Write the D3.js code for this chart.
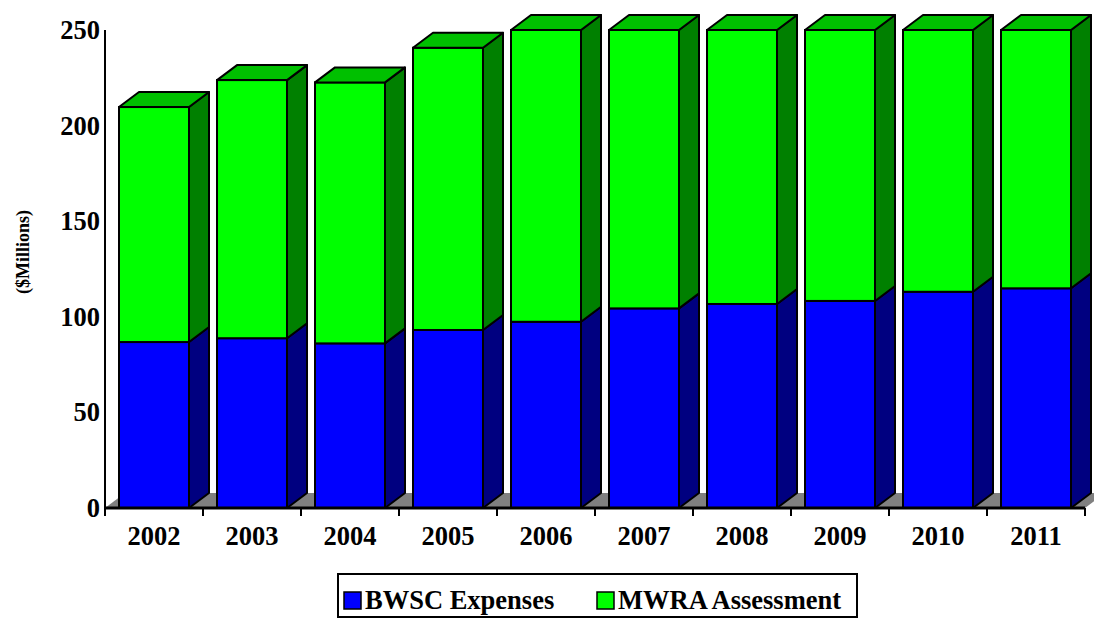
<!DOCTYPE html>
<html>
<head>
<meta charset="utf-8">
<script src="https://cdn.jsdelivr.net/npm/d3@7"></script>
<style>
  html, body { margin: 0; padding: 0; background: #fff; }
  svg { display: block; }
  text { font-family: "Liberation Serif", "Times New Roman", serif; font-weight: bold; fill: #000; }
</style>
</head>
<body>
<svg id="chart" width="1094" height="622"></svg>
<script>
const years = ["2002","2003","2004","2005","2006","2007","2008","2009","2010","2011"];
const bwsc = [86.8, 88.8, 86.1, 93.1, 97.4, 104.4, 106.7, 108.3, 113.1, 114.9];
const mwra = [122.9, 135.0, 136.5, 147.6, 152.6, 145.6, 143.3, 141.7, 136.9, 135.1];
const yTicks = [0, 50, 100, 150, 200, 250];
const seriesNames = ["BWSC Expenses", "MWRA Assessment"];

(function () {
const colors = [
  { front: "#0000FF", side: "#000080", top: "#0000C0" },
  { front: "#00FF00", side: "#008000", top: "#00C000" }
];

const svg = d3.select("#chart");
const pLeft = 105, pRight = 1085, pTop = 30, pBottom = 508;
const dx = 20, dy = 15;

const x = d3.scaleBand().domain(years).range([pLeft, pRight]).paddingInner(28/98).paddingOuter(14/98);
const y = d3.scaleLinear().domain([0, 250]).range([pBottom, pTop]);

// floor
svg.append("polygon")
  .attr("points", [[pLeft, pBottom], [pLeft + dx, pBottom - dy], [pRight + dx, pBottom - dy], [pRight, pBottom]].map(p => p.join(",")).join(" "))
  .attr("fill", "#808080");

// stacked data
const stack = years.map((yr, i) => {
  const segs = [];
  let base = 0;
  [bwsc[i], mwra[i]].forEach((v, s) => {
    segs.push({ yr, s, y0: base, y1: base + v, topMost: s === 1 });
    base += v;
  });
  return segs;
});

const g = svg.append("g");
stack.forEach(segs => {
  segs.forEach(d => {
    const x0 = x(d.yr), x1 = x(d.yr) + x.bandwidth();
    const yT = y(d.y1), yB = y(d.y0);
    const c = colors[d.s];
    g.append("rect")
      .attr("x", x0).attr("y", yT).attr("width", x1 - x0).attr("height", yB - yT)
      .attr("fill", c.front).attr("stroke", "#000").attr("stroke-width", 2);
    g.append("polygon")
      .attr("points", [[x1, yB], [x1 + dx, yB - dy], [x1 + dx, yT - dy], [x1, yT]].map(p => p.join(",")).join(" "))
      .attr("fill", c.side).attr("stroke", "#000").attr("stroke-width", 2).attr("stroke-linejoin", "round");
    if (d.topMost) {
      g.append("polygon")
        .attr("points", [[x0, yT], [x0 + dx, yT - dy], [x1 + dx, yT - dy], [x1, yT]].map(p => p.join(",")).join(" "))
        .attr("fill", c.top).attr("stroke", "#000").attr("stroke-width", 2).attr("stroke-linejoin", "round");
    }
  });
});

// y axis line
svg.append("line").attr("x1", pLeft).attr("x2", pLeft).attr("y1", y(250)).attr("y2", pBottom)
  .attr("stroke", "#000").attr("stroke-width", 2);
// x axis line
svg.append("line").attr("x1", pLeft).attr("x2", pRight).attr("y1", pBottom).attr("y2", pBottom)
  .attr("stroke", "#000").attr("stroke-width", 3);

// x ticks at category boundaries
const step = x.step();
d3.range(years.length + 1).forEach(i => {
  const xx = pLeft + i * step;
  svg.append("line").attr("x1", xx).attr("x2", xx).attr("y1", pBottom).attr("y2", pBottom + 8)
    .attr("stroke", "#000").attr("stroke-width", 2);
});

// x labels
svg.append("g").selectAll("text").data(years).join("text")
  .attr("x", d => x(d) + x.bandwidth() / 2)
  .attr("y", 545)
  .attr("text-anchor", "middle")
  .attr("font-size", 26.5)
  .text(d => d);

// y labels
svg.append("g").selectAll("text").data(yTicks).join("text")
  .attr("x", 100)
  .attr("y", d => y(d))
  .attr("dy", "0.34em")
  .attr("text-anchor", "end")
  .attr("font-size", 26.5)
  .text(d => d);

// y title
svg.append("text")
  .attr("transform", "translate(29,252) rotate(-90)")
  .attr("text-anchor", "middle")
  .attr("font-size", 18)
  .text("($Millions)");

// legend
const lg = svg.append("g");
lg.append("rect").attr("x", 338).attr("y", 574).attr("width", 519).attr("height", 43)
  .attr("fill", "#fff").attr("stroke", "#000").attr("stroke-width", 2);
const legendX = [344, 597];
seriesNames.forEach((n, i) => {
  lg.append("rect").attr("x", legendX[i]).attr("y", 592).attr("width", 17).attr("height", 17)
    .attr("fill", colors[i].front).attr("stroke", "#000").attr("stroke-width", 1.5);
  lg.append("text").attr("x", legendX[i] + 21).attr("y", 609).attr("font-size", 26.5).text(n);
});
})();
</script>
</body>
</html>
